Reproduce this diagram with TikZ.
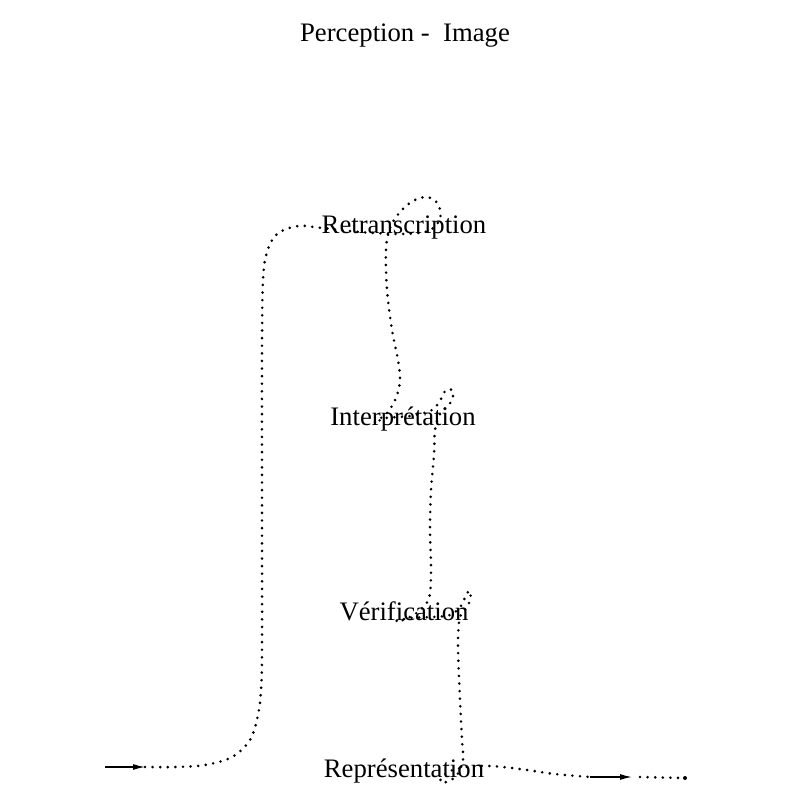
\documentclass[tikz,border=0pt]{standalone}
\usepackage{fontspec}
\setmainfont{Liberation Serif}
\usetikzlibrary{arrows.meta}
\tikzset{
  lbl/.style={inner sep=0pt, font=\fontsize{26.7}{32}\selectfont},
  dotline/.style={line width=2.9pt, line cap=round, dash pattern=on 0pt off 7.6pt},
  solidarrow/.style={line width=1.3pt, -{Latex[length=12pt,width=6pt]}},
}
\begin{document}
\begin{tikzpicture}[x=1pt,y=-1pt]
\useasboundingbox (0,0) rectangle (787,795);
\node[lbl] (title)  at (405,36)  {Perception -~ Image};
\node[lbl] (retr)   at (404,227) {Retranscription};
\node[lbl] (interp) at (403,419) {Interprétation};
\node[lbl] (verif)  at (404,611) {Vérification};
\node[lbl] (repr)   at (404,771) {Représentation};
\coordinate (in) at (105,767);
\coordinate (start) at (145,767);
\coordinate (mid) at (590,777);
\coordinate (tip) at (632,777);
\coordinate (endpt) at (685,778);
\draw[solidarrow] (in) -- (start);
\draw[dotline] plot[smooth, tension=0.55] coordinates {
 (145,767) (175,767) (205,765) (232,757) (250,740) (258,715) (261,690)
 (262,650) (262,500) (262,350) (263,280) (267,252) (277,234) (298,226)
 (322,228) (360,232) (400,234) (428,231) (440,219) (438,204) (427,197)
 (413,201) (400,212) (390,228) (386,250) (387,290) (392,330) (398,360)
 (400,380) (396,398) (387,413) (374,423) (386,418) (410,416) (432,410)
 (441,399) (446,390) (453,391) (451,402) (440,414) (435,430) (434,455)
 (431,490) (430,530) (431,570) (429,598) (418,612) (403,620) (396,621)
 (410,618) (432,617) (450,615) (461,606) (467,593) (471,592) (468,606)
 (460,617) (458,645) (460,700) (462,740) (463,760) (457,775) (447,782)
 (440,781) (448,772) (466,767) (490,766) (520,769) (555,774) (590,777)};
\draw[solidarrow] (mid) -- (tip);
\draw[dotline] (640,777) -- (endpt);
\fill (endpt) circle (2pt);
\end{tikzpicture}
\end{document}
